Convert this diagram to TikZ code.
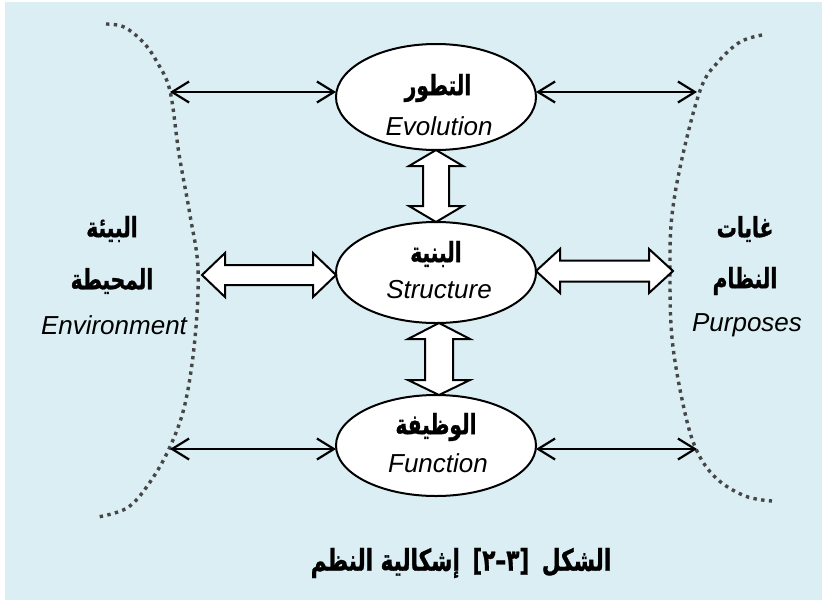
\documentclass[tikz,border=0pt]{standalone}
\usepackage{fontspec}
\setmainfont{Liberation Sans}
\newfontfamily\arfont[Script=Arabic, FakeStretch=0.72, FakeBold=1]{DejaVu Sans}
\TeXXeTstate=1
\usetikzlibrary{arrows.meta,calc,shapes.geometric}
\definecolor{bgblue}{HTML}{DAEEF3}
\definecolor{dotgray}{RGB}{70,70,70}
\tikzset{
  ellnode/.style={draw, line width=2pt, fill=white, ellipse, minimum width=200pt, inner sep=0pt, outer sep=0pt},
  latin/.style={font=\fontsize{26}{30}\selectfont\itshape, inner sep=0pt},
  arab/.style={font=\fontsize{28}{32}\selectfont\arfont\bfseries, inner sep=0pt},
  thinarrow/.style={line width=2.2pt, {Straight Barb[length=17pt,width=21pt]}-{Straight Barb[length=17pt,width=21pt]}},
  blockarrow/.style={draw, line width=2pt, fill=white, line join=miter},
  dotcurve/.style={draw=dotgray, line width=3.4pt, dash pattern=on 3.4pt off 4.4pt}
}
\begin{document}
\begin{tikzpicture}[x=1pt,y=-1pt]
\useasboundingbox (0,0) rectangle (827,603);
\fill[bgblue] (5,2) rectangle (822,600);

% dotted boundaries
\draw[dotcurve] plot[smooth, tension=0.6] coordinates {(106,24) (124,27) (143,42) (157,62) (170,91) (179,154) (190,215) (198,269) (195,338) (185,404) (169,449) (148,485) (127,508) (98,517)};
\draw[dotcurve] plot[smooth, tension=0.6] coordinates {(762,35) (740,42) (718,62) (701,88) (683,154) (672,215) (670,269) (672,338) (683,404) (696,449) (716,478) (745,496) (772,501)};

% ellipses
\node[ellnode, minimum height=106pt] (evo) at (436,97) {};
\node[ellnode, minimum height=101pt] (str) at (436,272.5) {};
\node[ellnode, minimum height=101pt] (fun) at (436,445.5) {};

\node[arab]  (evoA) at (438,88)  {\beginR التطور\endR};
\node[latin] (evoL) at (439,126) {Evolution};
\node[arab]  (strA) at (436,254) {\beginR البنية\endR};
\node[latin] (strL) at (439,290) {Structure};
\node[arab]  (funA) at (436,427) {\beginR الوظيفة\endR};
\node[latin] (funL) at (438,463) {Function};

% side labels
\node[arab]  (envA1) at (112,229) {\beginR البيئة\endR};
\node[arab]  (envA2) at (112,281) {\beginR المحيطة\endR};
\node[latin] (envL)  at (114,325) {Environment};
\node[arab]  (purA1) at (745,229) {\beginR غايات\endR};
\node[arab]  (purA2) at (745,281) {\beginR النظام\endR};
\node[latin] (purL)  at (747,325) {Purposes};

% caption
\node[arab, font=\fontsize{30}{34}\selectfont\arfont\bfseries] (cap) at (461,563) {\beginR الشكل\hspace{5pt} [٣–٢]\hspace{5pt} إشكالية النظم\endR};

% thin arrows
\coordinate (LT) at (170,92);
\coordinate (RT) at (697,92);
\coordinate (LB) at (170,449);
\coordinate (RB) at (697,449);
\draw[thinarrow] (LT) -- (LT -| evo.west);
\draw[thinarrow] (RT -| evo.east) -- (RT);
\draw[thinarrow] (LB) -- (LB -| fun.west);
\draw[thinarrow] (RB -| fun.east) -- (RB);

% block arrows
\coordinate (EL) at (202,275);
\coordinate (ER) at (673,271);
\draw[blockarrow] let \p1=(EL), \p2=(str.west) in
  (\x1,\y1) -- (\x1+23pt,\y1+22pt) -- (\x1+23pt,\y1+10pt) -- (\x2-23pt,\y1+10pt) -- (\x2-23pt,\y1+22pt) -- (\x2,\y1)
  -- (\x2-23pt,\y1-22pt) -- (\x2-23pt,\y1-10pt) -- (\x1+23pt,\y1-10pt) -- (\x1+23pt,\y1-22pt) -- cycle;
\draw[blockarrow] let \p1=(str.east), \p2=(ER) in
  (\x1,\y2) -- (\x1+24pt,\y2+22pt) -- (\x1+24pt,\y2+10.5pt) -- (\x2-24pt,\y2+10.5pt) -- (\x2-24pt,\y2+22pt) -- (\x2,\y2)
  -- (\x2-24pt,\y2-22pt) -- (\x2-24pt,\y2-10.5pt) -- (\x1+24pt,\y2-10.5pt) -- (\x1+24pt,\y2-22pt) -- cycle;
\draw[blockarrow] let \p1=(evo.south), \p2=(str.north) in
  (\x1,\y1) -- (\x1+27pt,\y1-16pt) -- (\x1+13pt,\y1-16pt) -- (\x1+13pt,\y2+16pt) -- (\x1+27pt,\y2+16pt) -- (\x1,\y2)
  -- (\x1-27pt,\y2+16pt) -- (\x1-13pt,\y2+16pt) -- (\x1-13pt,\y1-16pt) -- (\x1-27pt,\y1-16pt) -- cycle;
\draw[blockarrow] let \p1=([xshift=3pt]str.south), \p2=([xshift=3pt]fun.north) in
  (\x1,\y1) -- (\x1+31pt,\y1-16pt) -- (\x1+14pt,\y1-16pt) -- (\x1+14pt,\y2+15pt) -- (\x1+31pt,\y2+15pt) -- (\x1,\y2)
  -- (\x1-31pt,\y2+15pt) -- (\x1-14pt,\y2+15pt) -- (\x1-14pt,\y1-16pt) -- (\x1-31pt,\y1-16pt) -- cycle;
\end{tikzpicture}
\end{document}
